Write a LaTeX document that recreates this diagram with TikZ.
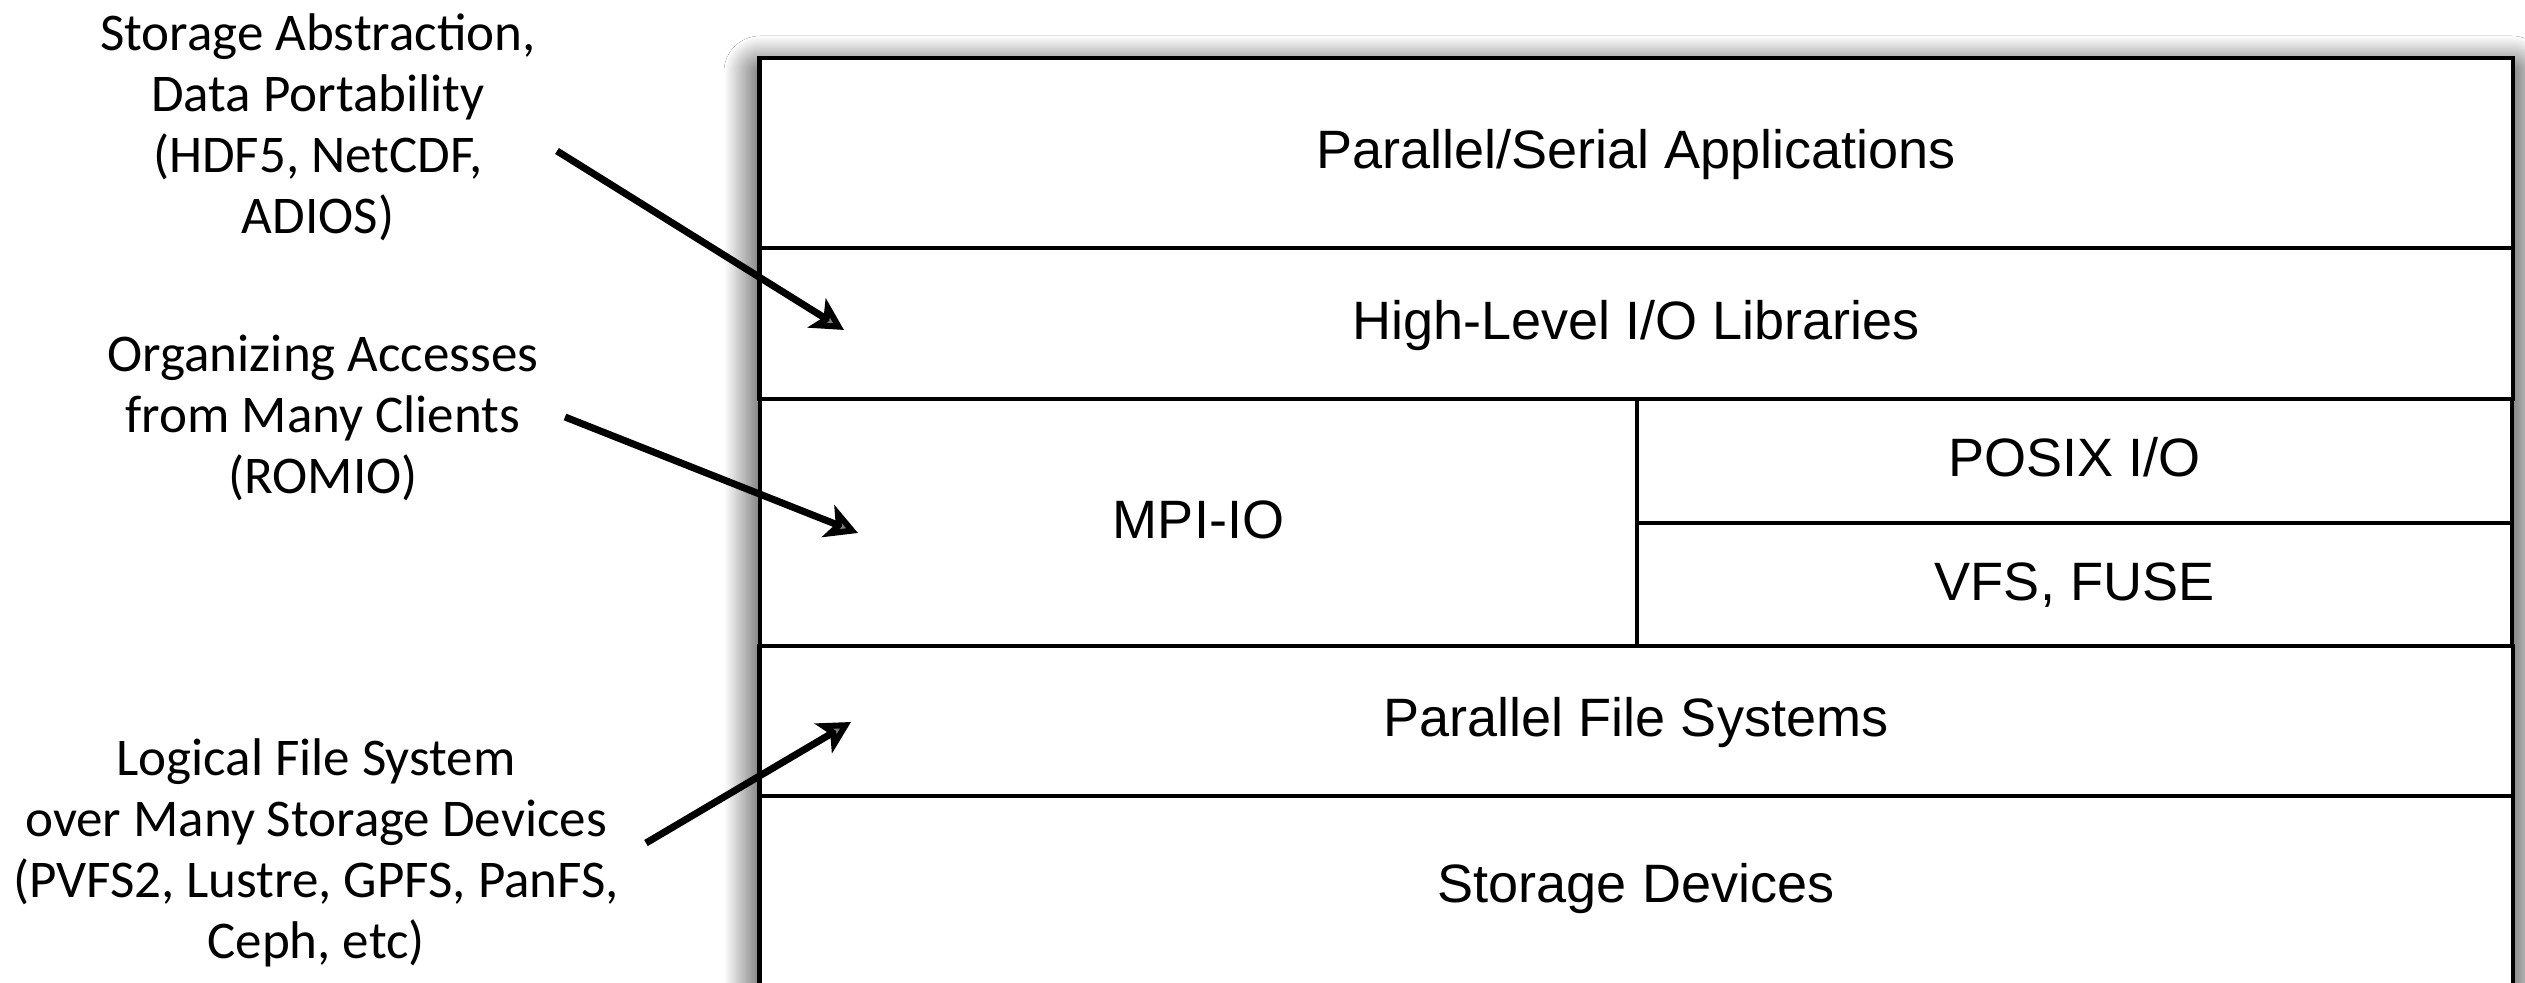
\documentclass[tikz,border=0pt]{standalone}
\usepackage{fontspec}
\setmainfont{Liberation Sans}
\newfontfamily\gillfont{Carlito}
\usetikzlibrary{arrows.meta,shadows.blur}

\begin{document}
\begin{tikzpicture}[x=0.01cm,y=-0.01cm,
  layer/.style={draw, line width=1.15pt, inner sep=0pt, outer sep=0pt,
    font=\fontsize{15.37pt}{18pt}\selectfont, text height=0.39cm, text depth=0.08cm},
  note/.style={font=\gillfont\fontsize{15.08pt}{17.36pt}\selectfont, align=center, inner sep=0pt},
  pointer/.style={line width=2pt, -{Stealth[length=0.32cm,width=0.34cm,inset=0.08cm]}}]
\useasboundingbox (0,0) rectangle (2525,983);
\fill[white] (0,0) rectangle (2525,983);

% outer frame of the stack, with a soft drop shadow
\path[fill=white, blur shadow={shadow xshift=0cm, shadow yshift=-0.14cm,
  shadow blur radius=0.36cm, shadow opacity=100, shadow blur steps=30}]
  (760,58) rectangle (2512,1010);

% software stack layers
\node[layer, minimum width=17.52cm, minimum height=1.90cm] (apps) at (1636,153) {Parallel/Serial Applications};
\node[layer, minimum width=17.52cm, minimum height=1.51cm] (hlio) at (1636,323.5) {High-Level I/O Libraries};
\node[layer, minimum width=8.77cm, minimum height=2.47cm] (mpiio) at (1198.5,522.5) {MPI-IO};
\node[layer, minimum width=8.75cm, minimum height=1.24cm] (posix) at (2074.5,461) {POSIX I/O};
\node[layer, minimum width=8.75cm, minimum height=1.23cm] (vfs) at (2074.5,584.5) {VFS, FUSE};
\node[layer, minimum width=17.52cm, minimum height=1.50cm] (pfs) at (1636,721) {Parallel File Systems};
\node[layer, minimum width=17.52cm, minimum height=2.14cm, text depth=0.40cm] (stor) at (1636,903) {Storage Devices};

% annotations on the left
\node[note] (absnote) at (318,127) {Storage Abstraction,\\Data Portability\\(HDF5, NetCDF,\\ADIOS)};
\node[note] (romnote) at (323,418) {Organizing Accesses\\from Many Clients\\(ROMIO)};
\node[note] (pfsnote) at (316,853) {Logical File System\\over Many Storage Devices\\(PVFS2, Lustre, GPFS, PanFS,\\Ceph, etc)};

% pointers from annotations into the layers
\coordinate (s1) at (557,151);
\coordinate (t1) at (844,330);
\coordinate (s2) at (565,417);
\coordinate (t2) at (858,533);
\coordinate (s3) at (646,843);
\coordinate (t3) at (851,722);
\draw[pointer] (s1) -- (t1);
\draw[pointer] (s2) -- (t2);
\draw[pointer] (s3) -- (t3);
\end{tikzpicture}
\end{document}
